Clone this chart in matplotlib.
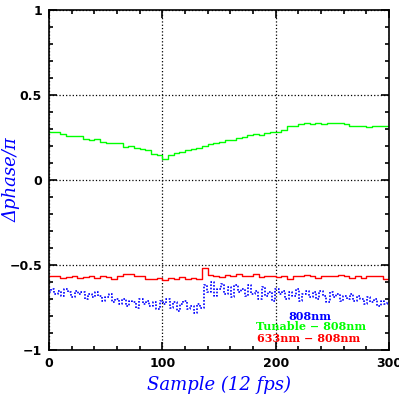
import numpy as np
import matplotlib
matplotlib.use('Agg')
import matplotlib.pyplot as plt
from matplotlib.ticker import MultipleLocator, FuncFormatter

# sample index grids
samples_5 = np.arange(0, 301, 5)
samples_3 = np.arange(0, 301, 3)

# Tunable - 808nm (green)
tunable = [0.28, 0.28, 0.27, 0.26, 0.26, 0.26, 0.24, 0.235, 0.24, 0.225,
           0.22, 0.22, 0.215, 0.195, 0.2, 0.19, 0.18, 0.175, 0.155, 0.15,
           0.125, 0.15, 0.16, 0.165, 0.175, 0.185, 0.19, 0.2, 0.21, 0.22,
           0.225, 0.235, 0.235, 0.25, 0.255, 0.265, 0.27, 0.265, 0.275, 0.28,
           0.28, 0.295, 0.32, 0.315, 0.33, 0.335, 0.33, 0.335, 0.33, 0.335,
           0.335, 0.335, 0.33, 0.32, 0.315, 0.32, 0.31, 0.32, 0.315, 0.32, 0.32]

# 633nm - 808nm (red)
red633 = [-0.565, -0.565, -0.575, -0.57, -0.565, -0.575, -0.57, -0.565, -0.575, -0.565,
          -0.57, -0.58, -0.565, -0.55, -0.555, -0.565, -0.565, -0.58, -0.585, -0.575,
          -0.59, -0.575, -0.58, -0.57, -0.585, -0.575, -0.585, -0.52, -0.56, -0.565,
          -0.57, -0.56, -0.565, -0.555, -0.565, -0.565, -0.555, -0.57, -0.565, -0.565,
          -0.57, -0.565, -0.58, -0.565, -0.565, -0.56, -0.565, -0.575, -0.565, -0.565,
          -0.565, -0.56, -0.565, -0.575, -0.565, -0.575, -0.565, -0.565, -0.565, -0.58, -0.565]

# 808nm (blue)
blue808 = [-0.66, -0.64, -0.67, -0.65, -0.68, -0.64, -0.66, -0.69, -0.65, -0.67, -0.66,
           -0.70, -0.67, -0.69, -0.66, -0.68, -0.71, -0.69, -0.67, -0.72, -0.70,
           -0.73, -0.70, -0.74, -0.71, -0.72, -0.75, -0.70, -0.73, -0.71, -0.74, -0.72, -0.76, -0.71,
           -0.73, -0.70, -0.75, -0.72, -0.77, -0.73, -0.71, -0.76, -0.74, -0.78, -0.73, -0.75,
           -0.62, -0.66, -0.60, -0.68, -0.64, -0.61, -0.67, -0.63, -0.69, -0.62, -0.66,
           -0.64, -0.68, -0.62, -0.67, -0.65, -0.70, -0.63, -0.68, -0.66, -0.71, -0.64,
           -0.67, -0.65, -0.70, -0.66, -0.68, -0.64, -0.71, -0.67, -0.65, -0.69, -0.66,
           -0.70, -0.65, -0.68, -0.72, -0.66, -0.69, -0.67, -0.71, -0.68, -0.70, -0.67,
           -0.71, -0.68, -0.70, -0.73, -0.69, -0.72, -0.70, -0.74, -0.71, -0.73, -0.72]

fig = plt.figure(figsize=(3.99, 3.99), dpi=100)
ax = fig.add_axes([49/399, 49/399, 340/399, 340/399])

ax.plot(samples_5, tunable, color='#00ff00', lw=1.0, drawstyle='steps-post')
ax.plot(samples_5, red633, color='#ff0000', lw=1.0, drawstyle='steps-post')
ax.plot(samples_3, blue808, color='#0000ff', lw=1.2, ls=(0, (1, 1)), drawstyle='steps-mid')

ax.set_xlim(0, 300)
ax.set_ylim(-1, 1)
ax.xaxis.set_major_locator(MultipleLocator(100))
ax.xaxis.set_minor_locator(MultipleLocator(20))
ax.yaxis.set_major_locator(MultipleLocator(0.5))
ax.yaxis.set_minor_locator(MultipleLocator(0.1))
ax.yaxis.set_major_formatter(FuncFormatter(lambda v, p: ('%g' % v).replace('-', '\u2212')))
ax.tick_params(which='both', direction='in', top=True, right=True, width=1.2)
ax.tick_params(which='major', length=6, labelsize=9, pad=5)
ax.tick_params(which='minor', length=3)
for lab in ax.get_xticklabels() + ax.get_yticklabels():
    lab.set_fontweight('bold')
for s in ax.spines.values():
    s.set_linewidth(1.2)
ax.grid(True, which='major', ls=':', color='black', lw=0.9)

ax.set_xlabel('Sample (12 fps)', color='#0000ff', fontsize=13, style='italic', family='DejaVu Serif')
ax.set_ylabel('\u0394phase/\u03c0', color='#0000ff', fontsize=13, style='italic', family='DejaVu Serif')
ax.yaxis.set_label_coords(-0.085, 0.5)

txt = dict(transform=fig.transFigure, fontsize=8, fontweight='bold', family='DejaVu Serif', va='center')
ax.text(288/399, 1 - 316/399, '808nm', color='#0000ff', **txt)
ax.text(256/399, 1 - 327/399, 'Tunable \u2212 808nm', color='#00ff00', **txt)
ax.text(257/399, 1 - 338/399, '633nm \u2212 808nm', color='#ff0000', **txt)

plt.savefig('out.png', dpi=100)
